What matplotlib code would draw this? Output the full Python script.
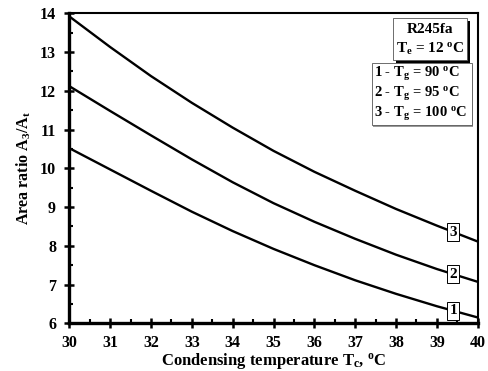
import numpy as np
import matplotlib
matplotlib.use("Agg")
import matplotlib.pyplot as plt
from matplotlib.ticker import MultipleLocator
from matplotlib.patches import Rectangle

# Data
t_cond = [30, 31, 32, 33, 34, 35, 36, 37, 38, 39, 40]
ratio_tg90 = [10.52, 9.97, 9.42, 8.88, 8.38, 7.92, 7.50, 7.11, 6.76, 6.44, 6.15]
ratio_tg95 = [12.12, 11.48, 10.85, 10.23, 9.64, 9.10, 8.62, 8.18, 7.77, 7.40, 7.07]
ratio_tg100 = [13.92, 13.13, 12.38, 11.69, 11.05, 10.45, 9.91, 9.42, 8.95, 8.52, 8.11]
curve_ids = ["1", "2", "3"]
label_x = 39.4

plt.rcParams['font.family'] = ['Liberation Serif', 'DejaVu Serif']
plt.rcParams['font.weight'] = 'bold'
plt.rcParams['mathtext.default'] = 'regular'

fig = plt.figure(figsize=(4.88, 3.71), dpi=100)
ax = fig.add_axes([0.142, 0.1286, 0.837, 0.8355])

series = [ratio_tg90, ratio_tg95, ratio_tg100]
for vals, cid in zip(series, curve_ids):
    ax.plot(t_cond, vals, color='black', lw=1.7, solid_capstyle='butt')
    yl = np.interp(label_x, t_cond, vals)
    ax.text(label_x, yl, cid, ha='center', va='center', fontsize=11, fontweight='bold',
            bbox=dict(boxstyle='square,pad=0.15', fc='white', ec='black', lw=0.7), zorder=5)

ax.set_xlim(30, 40)
ax.set_ylim(6, 14)
ax.xaxis.set_major_locator(MultipleLocator(1))
ax.xaxis.set_minor_locator(MultipleLocator(0.5))
ax.yaxis.set_major_locator(MultipleLocator(1))
ax.yaxis.set_minor_locator(MultipleLocator(0.5))
ax.tick_params(which='major', direction='inout', length=7, width=1.8, labelsize=11.5)
ax.tick_params(axis='x', which='major', pad=5)
ax.tick_params(axis='y', which='major', pad=6)
ax.tick_params(which='minor', direction='in', length=3, width=1.5)
for lab in ax.get_xticklabels() + ax.get_yticklabels():
    lab.set_fontweight('bold')

for s in ['left', 'bottom']:
    ax.spines[s].set_linewidth(2.4)
for s in ['top', 'right']:
    ax.spines[s].set_linewidth(1.5)

ax.set_xlabel('Condensing temperature T$_c$, $^o$C', fontsize=12, fontweight='bold', labelpad=0)
ax.set_ylabel('Area ratio A$_3$/A$_t$', fontsize=11.5, fontweight='bold', labelpad=5)

# Boxes (figure pixel coords converted)
W, H = 488, 371
def fbox(x0, y0, x1, y1):
    return (x0 / W, 1 - y1 / H, (x1 - x0) / W, (y1 - y0) / H)

# Shadow + box 1
bx = fbox(393, 18, 467, 60)
fig.patches.append(Rectangle((bx[0] + 3 / W, bx[1] - 3 / H), bx[2], bx[3], transform=fig.transFigure,
                             fc='black', ec='none', zorder=3))
fig.patches.append(Rectangle((bx[0], bx[1]), bx[2], bx[3], transform=fig.transFigure,
                             fc='white', ec='#555555', lw=0.6, zorder=4))
fig.text((393 + 467) / 2 / W, 1 - 40 / H, 'R245fa\nT$_e$ = 12 $^o$C', ha='center', va='center',
         fontsize=11, fontweight='bold', linespacing=1.35, zorder=6)

bx2 = fbox(372, 63, 472, 125)
fig.patches.append(Rectangle((bx2[0] + 1.5 / W, bx2[1] - 1.5 / H), bx2[2], bx2[3], transform=fig.transFigure,
                             fc='#999999', ec='none', zorder=3))
fig.patches.append(Rectangle((bx2[0], bx2[1]), bx2[2], bx2[3], transform=fig.transFigure,
                             fc='white', ec='#555555', lw=0.6, zorder=4))
fig.text(374 / W, 1 - 94 / H,
         '1 - T$_g$ = 90 $^o$C\n2 - T$_g$ = 95 $^o$C\n3 - T$_g$ = 100 $^o$C',
         ha='left', va='center', fontsize=10.5, fontweight='bold', linespacing=1.2, zorder=6)

fig.savefig('out.png', dpi=100)
